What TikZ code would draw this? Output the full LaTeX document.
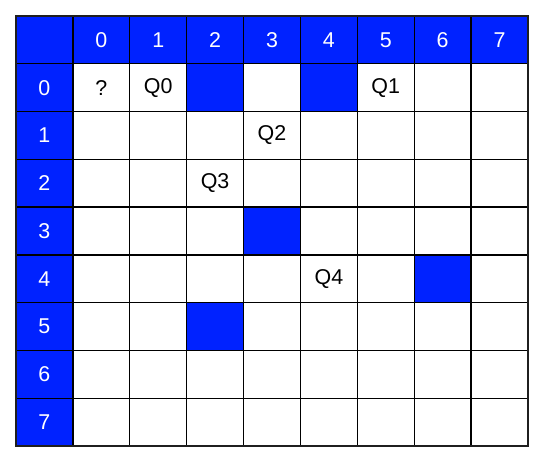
\documentclass[tikz,border=0pt]{standalone}
\usepackage{fontspec}
\setmainfont{Liberation Sans}
\definecolor{cellblue}{RGB}{0,34,255}
\begin{document}
\begin{tikzpicture}[x=1bp,y=-1bp,
  cell/.style={draw=black,line width=1.4bp,fill=white,minimum width=56.889bp,minimum height=47.778bp,inner sep=0pt,outer sep=0pt},
  bluecell/.style={cell,fill=cellblue,text=white},
  txt/.style={font=\fontsize{21.5}{25}\selectfont,text=black},
  htxt/.style={font=\fontsize{21.5}{25}\selectfont}]
\useasboundingbox (0,0) rectangle (540,458);
\def\ox{16}\def\oy{16}\def\cw{56.889}\def\ch{47.778}
% corner
\node[bluecell] (corner) at ({\ox+0.5*\cw},{\oy+0.5*\ch}) {};
% header row and column
\foreach \i [evaluate=\i as \k using int(\i-1)] in {1,...,8}{
  \node[bluecell,htxt] (h-\i) at ({\ox+(\i+0.5)*\cw},{\oy+0.5*\ch}) {\k};
  \node[bluecell,htxt] (v-\i) at ({\ox+0.5*\cw},{\oy+(\i+0.5)*\ch}) {\k};
}
% interior cells
\foreach \r in {1,...,8}{
  \foreach \c in {1,...,8}{
    \node[cell] (n-\r-\c) at ({\ox+(\c+0.5)*\cw},{\oy+(\r+0.5)*\ch}) {};
  }
}
% blue interior cells
\node[bluecell] (b1) at (n-1-3) {};
\node[bluecell] (b2) at (n-1-5) {};
\node[bluecell] (b3) at (n-4-4) {};
\node[bluecell] (b4) at (n-5-7) {};
\node[bluecell] (b5) at (n-6-3) {};
% texts
\node[txt] (tq) at (n-1-1) {?};
\node[txt] (t0) at (n-1-2) {Q0};
\node[txt] (t1) at (n-1-6) {Q1};
\node[txt] (t2) at (n-2-4) {Q2};
\node[txt] (t3) at (n-3-3) {Q3};
\node[txt] (t4) at (n-5-5) {Q4};
% outer border
\draw[line width=2.2bp,draw=black!88] (corner.north west) rectangle (n-8-8.south east);
\end{tikzpicture}
\end{document}
